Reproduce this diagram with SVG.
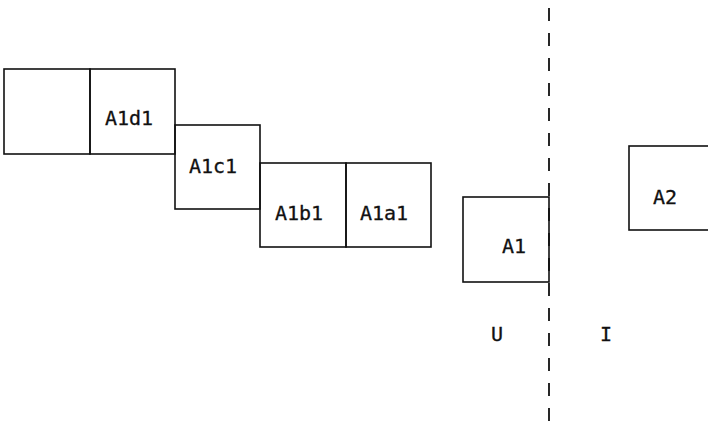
<svg xmlns="http://www.w3.org/2000/svg" width="708" height="425" viewBox="0 0 708 425">
<style>
.b{fill:none;stroke:#111;stroke-width:1.6}
.t{font-family:"DejaVu Sans Mono","Liberation Mono",monospace;font-size:20px;fill:#111;stroke:#111;stroke-width:0.3}
.d{stroke:#111;stroke-width:1.8;stroke-dasharray:13 12;fill:none}
</style>
<rect width="708" height="425" fill="#fff"/>
<g id="connectors">
<line class="d" x1="549" y1="8" x2="549" y2="425"/>
</g>
<g id="blank"><rect class="b" x="4" y="69" width="86" height="85"/></g>
<g id="A1d1"><rect class="b" x="90" y="69" width="85" height="85"/><text class="t" x="105" y="125">A1d1</text></g>
<g id="A1c1"><rect class="b" x="175" y="125" width="85" height="84"/><text class="t" x="189" y="173">A1c1</text></g>
<g id="A1b1"><rect class="b" x="260" y="163" width="86" height="84"/><text class="t" x="275" y="220">A1b1</text></g>
<g id="A1a1"><rect class="b" x="346" y="163" width="85" height="84"/><text class="t" x="360" y="220">A1a1</text></g>
<g id="A1"><rect class="b" x="463" y="197" width="86" height="85"/><text class="t" x="502" y="253">A1</text></g>
<g id="A2"><rect class="b" x="629" y="146" width="82" height="84"/><text class="t" x="653" y="204">A2</text></g>
<g id="labels">
<text class="t" x="491" y="341">U</text>
<text class="t" x="600" y="341">I</text>
</g>
</svg>
